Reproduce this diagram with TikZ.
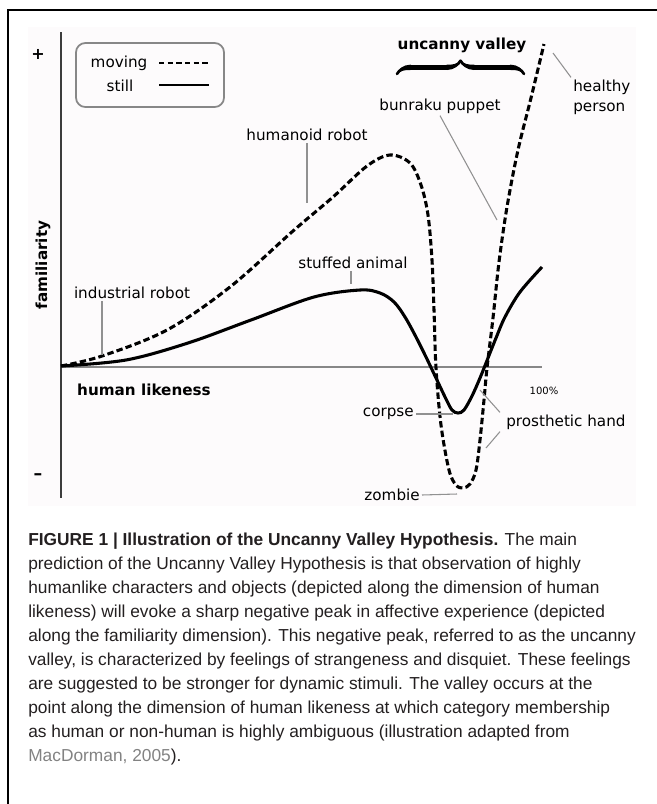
\documentclass[tikz,border=0pt]{standalone}
\usepackage{fontspec}
\setmainfont{Liberation Sans}
\newfontfamily\plotfont{DejaVu Sans}
\usetikzlibrary{decorations.pathreplacing,calligraphy}
\definecolor{leadgray}{RGB}{145,145,145}
\definecolor{axisgray}{RGB}{135,135,135}
\definecolor{axisdark}{RGB}{60,60,60}
\definecolor{plotbg}{RGB}{253,251,252}
\definecolor{captext}{RGB}{35,31,32}
\definecolor{linkgray}{RGB}{130,130,130}
\tikzset{
  lbl/.style={inner sep=1.5pt, font={\plotfont\fontsize{11.4}{15}\selectfont}},
  blbl/.style={inner sep=1.5pt, font={\plotfont\bfseries\fontsize{11.4}{15}\selectfont}},
  leader/.style={draw=leadgray, line width=0.8pt},
  moving/.style={line width=2.3pt, dash pattern=on 4.8pt off 2.4pt},
  still/.style={line width=2.3pt},
}
\begin{document}
\begin{tikzpicture}[x=0.75pt, y=-0.75pt]
    \useasboundingbox (0,0) rectangle (657,804);
    \fill[plotbg] (28,27) rectangle (636,506);
    \draw[line width=1.5pt] (8,804) -- (8,10) -- (657,10);
    \draw[axisdark, line width=1.9pt] (61,32) -- (61,498);
    \draw[axisgray, line width=2.2pt] (61,367) -- (542,367);
    \draw[still] plot[smooth, tension=0.55] coordinates {(61,366) (126,360) (188,343) (251,320) (314,297) (360,290) (380,293) (394,302) (405,317) (416,337) (426,357) (436,378) (446,399) (452,410) (458,413) (464,410) (472,396) (480,378) (488,358) (496,338) (505,317) (520,292) (542,267)};
    \draw[moving] plot[smooth, tension=0.55] coordinates {(61,366) (102,356) (167,330) (230,287) (293,231) (333,197) (367,166) (390,155) (410,163) (421,185) (428,215) (432,260) (434,310) (436,368) (441,425) (449,470) (456,485) (463,488) (470,484) (476,470) (480,440) (484,400) (487,368) (493,318) (499,262) (507,207) (518,150) (531,98) (544,44)};
    \node[draw=axisgray, line width=1.3pt, rounded corners=7pt, minimum width=111pt, minimum height=48pt] (legend) at (150,75) {};
    \node[lbl] (mov) at (119,63) {moving};
    \node[lbl] (stl) at (120,86) {still};
    \draw[moving, line width=2pt, dash pattern=on 4pt off 2.5pt] (159,63) -- (209,63);
    \draw[line width=1.1pt] (159,85) -- (209,85);
    \node[blbl, font={\plotfont\bfseries\fontsize{12}{14}\selectfont}] (plus) at (38,54) {+};
    \node[blbl, font={\plotfont\bfseries\fontsize{13}{15}\selectfont}] (minus) at (38,477) {–};
    \node[blbl, rotate=90] (fam) at (43,265) {familiarity};
    \node[blbl] (hl) at (144,390) {human likeness};
    \node[blbl] (uv) at (462,45) {uncanny valley};
    \draw[decorate, decoration={calligraphic brace, amplitude=10pt}, line width=4pt] (397,74) -- (524,74);
    \node[lbl, align=left, anchor=west] (hp) at (571,97) {healthy\\person};
    \node[lbl] (bun) at (440,106) {bunraku puppet};
    \node[lbl] (hum) at (307,135) {humanoid robot};
    \node[lbl] (stf) at (353,263) {stuffed animal};
    \node[lbl] (ind) at (132,293) {industrial robot};
    \node[lbl, font={\plotfont\fontsize{7.5}{9}\selectfont}] (pct) at (544,391) {100\%};
    \node[lbl, anchor=east] (cor) at (416,414) {corpse};
    \node[lbl, anchor=west] (pro) at (504,422) {prosthetic hand};
    \node[lbl, anchor=east] (zom) at (422,495) {zombie};
    \coordinate (c-hp) at (553,53);
    \coordinate (c-bun) at (497,220);
    \coordinate (c-hum) at (307,203);
    \coordinate (c-stf) at (351,284);
    \coordinate (c-ind) at (102,355);
    \coordinate (c-cor) at (453,414);
    \coordinate (c-pr1) at (480,390);
    \coordinate (c-pr2) at (486,448);
    \coordinate (c-zom) at (457,494);
    \draw[leader] (c-hp) -- (hp.north west);
    \draw[leader] (bun.south) -- (c-bun);
    \draw[leader] (hum.south -| c-hum) -- (c-hum);
    \draw[leader] (stf.south -| c-stf) -- (c-stf);
    \draw[leader] (ind.south -| c-ind) -- (c-ind);
    \draw[leader] (cor.east) -- (c-cor);
    \draw[leader] ([xshift=-3pt]pro.north west) -- (c-pr1);
    \draw[leader] ([xshift=-3pt]pro.south west) -- (c-pr2);
    \draw[leader] (zom.east) -- (c-zom);
    \node[anchor=north west, inner sep=0pt, align=left, text=captext, font={\fontsize{13}{18}\selectfont}] (cap) at (28,533) {\textbf{FIGURE 1 | Illustration of the Uncanny Valley Hypothesis.} The main\\
prediction of the Uncanny Valley Hypothesis is that observation of highly\\
humanlike characters and objects (depicted along the dimension of human\\
likeness) will evoke a sharp negative peak in affective experience (depicted\\
along the familiarity dimension). This negative peak, referred to as the uncanny\\
valley, is characterized by feelings of strangeness and disquiet. These feelings\\
are suggested to be stronger for dynamic stimuli. The valley occurs at the\\
point along the dimension of human likeness at which category membership\\
as human or non-human is highly ambiguous (illustration adapted from\\
\textcolor{linkgray}{MacDorman, 2005}).};
\end{tikzpicture}
\end{document}
